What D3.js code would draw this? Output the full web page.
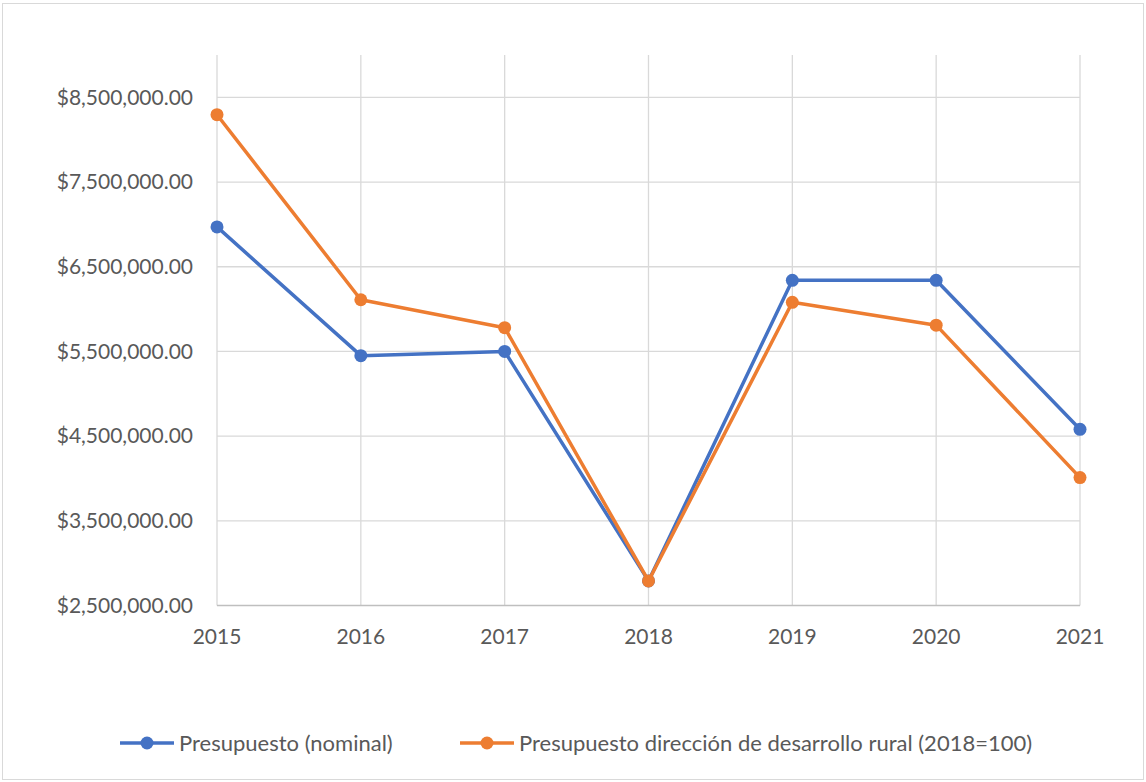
<!DOCTYPE html>
<html>
<head>
<meta charset="utf-8">
<script src="https://cdn.jsdelivr.net/npm/d3@7"></script>
<style>
  body { margin: 0; background: #fff; }
  svg text { font-family: Lato, "Open Sans", sans-serif; fill: #595959; }
</style>
</head>
<body>
<svg id="chart"></svg>
<script>
// Data
const years = ['2015', '2016', '2017', '2018', '2019', '2020', '2021'];
const nominal = [6970000, 5450000, 5500000, 2790000, 6340000, 6340000, 4580000];
const rural = [8295000, 6110000, 5780000, 2790000, 6080000, 5810000, 4010000];
const yTicks = [2500000, 3500000, 4500000, 5500000, 6500000, 7500000, 8500000];
const seriesNames = ['Presupuesto (nominal)', 'Presupuesto dirección de desarrollo rural (2018=100)'];
const seriesColors = ['#4472C4', '#ED7D31'];

const width = 1146, height = 782;
const plot = { left: 217, right: 1080, top: 55, bottom: 605.5 };

const svg = d3.select('#chart')
    .attr('width', width)
    .attr('height', height);

// chart border
svg.append('rect')
    .attr('x', 2.5).attr('y', 3.5)
    .attr('width', width - 5).attr('height', height - 6)
    .attr('fill', '#fff')
    .attr('stroke', '#d9d9d9');

const x = d3.scalePoint().domain(years).range([plot.left, plot.right]).padding(0);
const y = d3.scaleLinear().domain([2500000, 9000000]).range([plot.bottom, plot.top]);

const fmt = v => '$' + d3.format(',.2f')(v);

// horizontal gridlines
svg.append('g')
    .selectAll('line')
    .data(yTicks.slice(1))
    .join('line')
    .attr('x1', plot.left).attr('x2', plot.right)
    .attr('y1', d => y(d)).attr('y2', d => y(d))
    .attr('stroke', '#d9d9d9').attr('stroke-width', 1.3);

// vertical gridlines
svg.append('g')
    .selectAll('line')
    .data(years)
    .join('line')
    .attr('x1', d => x(d)).attr('x2', d => x(d))
    .attr('y1', plot.top).attr('y2', plot.bottom)
    .attr('stroke', '#d9d9d9').attr('stroke-width', 1.3);

// x axis line
svg.append('line')
    .attr('x1', plot.left).attr('x2', plot.right)
    .attr('y1', plot.bottom).attr('y2', plot.bottom)
    .attr('stroke', '#bfbfbf').attr('stroke-width', 1.3);

// y tick labels
svg.append('g')
    .selectAll('text')
    .data(yTicks)
    .join('text')
    .attr('x', 193)
    .attr('y', d => y(d))
    .attr('dy', '0.35em')
    .attr('text-anchor', 'end')
    .style('font-size', '21px')
    .text(fmt);

// x tick labels
svg.append('g')
    .selectAll('text')
    .data(years)
    .join('text')
    .attr('x', d => x(d))
    .attr('y', 637)
    .attr('dy', '0.35em')
    .attr('text-anchor', 'middle')
    .style('font-size', '21px')
    .text(d => d);

// lines + markers
const line = d3.line().x((d, i) => x(years[i])).y(d => y(d));
[nominal, rural].forEach((vals, s) => {
    const g = svg.append('g');
    g.append('path')
        .attr('d', line(vals))
        .attr('fill', 'none')
        .attr('stroke', seriesColors[s])
        .attr('stroke-width', 3.5)
        .attr('stroke-linejoin', 'round');
    g.selectAll('circle')
        .data(vals)
        .join('circle')
        .attr('cx', (d, i) => x(years[i]))
        .attr('cy', d => y(d))
        .attr('r', 6.5)
        .attr('fill', seriesColors[s]);
});

// legend
const legendX = [120, 460];
const legend = svg.append('g');
seriesNames.forEach((name, i) => {
    const g = legend.append('g').attr('transform', `translate(${legendX[i]},743)`);
    g.append('line')
        .attr('x1', 0).attr('x2', 54)
        .attr('stroke', seriesColors[i]).attr('stroke-width', 3.5);
    g.append('circle').attr('cx', 27).attr('r', 6.5).attr('fill', seriesColors[i]);
    g.append('text')
        .attr('x', 59)
        .attr('dy', '0.35em')
        .style('font-size', '22px')
        .text(name);
});
</script>
</body>
</html>
